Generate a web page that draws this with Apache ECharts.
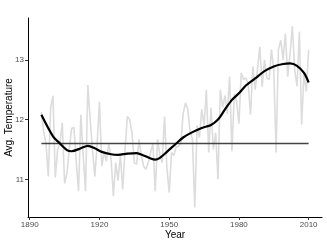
<!DOCTYPE html>
<html><head><meta charset="utf-8">
<script src="https://cdn.jsdelivr.net/npm/echarts@6/dist/echarts.min.js"></script>
<style>html,body{margin:0;padding:0;background:#fff}#c{width:327px;height:245px}</style>
</head><body><div id="c"></div>
<script>
const years = [];
for (let y = 1895; y <= 2010; y++) years.push(y);
const temps = [
12.13,11.8,11.6,11.05,12.2,12.4,11.03,11.5,11.6,11.95,
10.93,11.1,11.5,11.85,11.87,11.3,10.8,12.08,11.4,10.8,
12.58,12.0,11.5,11.05,11.6,12.3,11.22,11.45,11.3,11.6,
11.33,10.72,11.28,10.98,11.4,10.83,11.5,12.05,12.0,11.78,
11.28,11.25,11.67,11.4,11.22,11.17,11.28,11.45,11.6,10.8,
11.67,11.4,11.28,12.05,11.2,10.78,11.45,11.4,11.55,11.55,
11.6,12.1,12.28,12.17,11.8,11.67,10.53,11.9,11.7,12.17,
11.9,12.5,11.45,12.2,11.5,11.78,11.0,12.5,12.2,12.4,
12.1,12.72,11.47,12.43,12.3,11.93,12.78,12.67,12.7,12.6,
12.08,12.89,12.5,12.85,13.22,12.55,13.0,12.7,12.67,13.17,
12.83,11.45,13.17,13.33,13.0,13.44,12.72,13.1,13.56,12.83,
12.56,13.47,11.92,12.78,12.47,13.17
];
const smoothYears = [1895,1900,1903,1906,1908,1912,1915,1918,1921,1925,1928,1932,1936,1939,1942,1944,1946,1949,1953,1956,1960,1964,1968,1971,1974,1977,1980,1983,1987,1991,1995,1999,2002,2005,2008,2010];
const smoothVals = [12.08,11.72,11.6,11.49,11.47,11.52,11.56,11.52,11.46,11.42,11.41,11.43,11.44,11.4,11.35,11.33,11.36,11.46,11.6,11.7,11.79,11.86,11.91,12.0,12.17,12.33,12.44,12.57,12.69,12.81,12.89,12.93,12.94,12.9,12.78,12.62];
const refValue = 11.6;
const xTicks = [1890,1920,1950,1980,2010];
const yTicks = [11,12,13];

const chart = echarts.init(document.getElementById('c'), null, {renderer:'canvas'});
const font = 'Liberation Sans, Arial, sans-serif';
chart.setOption({
  animation:false,
  backgroundColor:'#fff',
  grid:{left:28,right:5,top:18,bottom:28,containLabel:false,outerBoundsMode:'none'},
  xAxis:{type:'value',min:1889.25,max:2015.75,
    name:'Year',nameLocation:'middle',nameGap:13,nameMoveOverlap:false,
    nameTextStyle:{fontFamily:font,fontSize:10,color:'#000'},
    axisLine:{show:true,lineStyle:{color:'#000',width:1}},
    axisTick:{show:true,length:3,lineStyle:{color:'#333'},customValues:xTicks},
    axisLabel:{fontFamily:font,fontSize:8,color:'#4d4d4d',margin:4,customValues:xTicks,formatter:v=>String(v)},
    splitLine:{show:false}},
  yAxis:{type:'value',min:10.37,max:13.7,
    name:'Avg. Temperature',nameLocation:'middle',nameGap:14,nameMoveOverlap:false,
    nameTextStyle:{fontFamily:font,fontSize:10,color:'#000'},
    axisLine:{show:true,lineStyle:{color:'#000',width:1}},
    axisTick:{show:true,length:3,lineStyle:{color:'#333'},customValues:yTicks},
    axisLabel:{fontFamily:font,fontSize:8,color:'#4d4d4d',margin:4,customValues:yTicks,formatter:v=>String(v)},
    splitLine:{show:false}},
  series:[
    {type:'line',data:years.map((y,i)=>[y,temps[i]]),showSymbol:false,
      lineStyle:{color:'#dcdcdc',width:1.6},z:1},
    {type:'line',data:[[years[0],refValue],[years[years.length-1],refValue]],showSymbol:false,
      lineStyle:{color:'#444',width:1.4},z:2},
    {type:'line',data:smoothYears.map((y,i)=>[y,smoothVals[i]]),showSymbol:false,smooth:0.3,
      lineStyle:{color:'#000',width:2.2},z:3}
  ]
});
</script></body></html>
